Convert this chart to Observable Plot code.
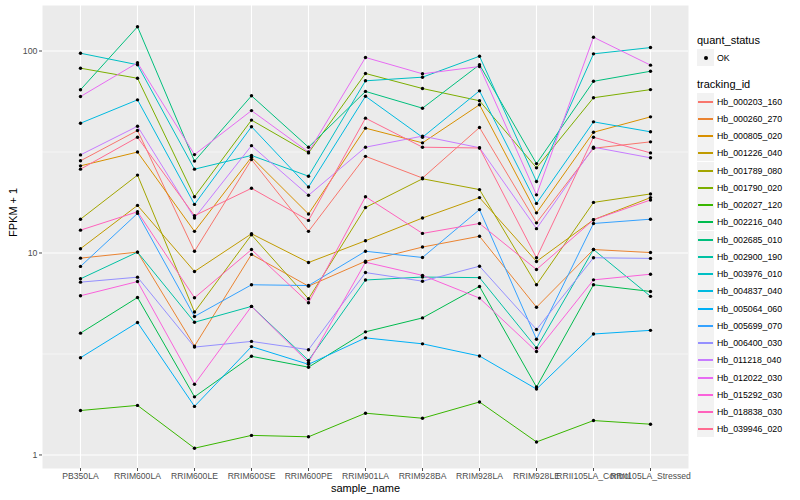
<!DOCTYPE html>
<html>
<head>
<meta charset="utf-8">
<script src="https://cdn.jsdelivr.net/npm/d3@7"></script>
<script src="https://cdn.jsdelivr.net/npm/@observablehq/plot@0.6"></script>
<style>
  body { margin: 0; background: white; }
  #wrap { position: relative; width: 800px; height: 500px; font-family: "Liberation Sans", Arial, sans-serif; }
  #legend { position: absolute; left: 0; top: 0; width: 800px; height: 500px; pointer-events: none; }
  .lt { position: absolute; font-size: 11px; color: #000; line-height: 14px; white-space: nowrap; }
  .ll { position: absolute; font-size: 8.8px; color: #000; line-height: 12px; white-space: nowrap; }
  .key { position: absolute; width: 17px; height: 17px; background: #F2F2F2; }
  .key .ln { position: absolute; left: 1px; width: 15px; top: 8px; height: 1.5px; }
  .key .pt { position: absolute; left: 6.5px; top: 6.5px; width: 4px; height: 4px; background: #000; border-radius: 50%; }
</style>
</head>
<body>
<div id="wrap"><div id="chart"></div><div id="legend"></div></div>
<script>
const samples = ["PB350LA", "RRIM600LA", "RRIM600LE", "RRIM600SE", "RRIM600PE", "RRIM901LA", "RRIM928BA", "RRIM928LA", "RRIM928LE", "RRII105LA_Control", "RRII105LA_Stressed"];

const trackingIds = ["Hb_000203_160", "Hb_000260_270", "Hb_000805_020", "Hb_001226_040", "Hb_001789_080", "Hb_001790_020", "Hb_002027_120", "Hb_002216_040", "Hb_002685_010", "Hb_002900_190", "Hb_003976_010", "Hb_004837_040", "Hb_005064_060", "Hb_005699_070", "Hb_006400_030", "Hb_011218_040", "Hb_012022_030", "Hb_015292_030", "Hb_018838_030", "Hb_039946_020"];

const colors = ["#F8766D", "#EA8331", "#D89000", "#C09B00", "#A3A500", "#7CAE00", "#39B600", "#00BB4E", "#00BF7D", "#00C1A3", "#00BFC4", "#00BAE0", "#00B0F6", "#35A2FF", "#9590FF", "#C77CFF", "#E76BF3", "#FA62DB", "#FF62BC", "#FF6C91"];

// FPKM + 1 per tracking_id, in sample order
const fpkmPlus1 = [
  [28.6, 40.4, 10.2, 29.0, 12.8, 30.1, 23.5, 41.8, 14.1, 33.0, 35.5],
  [9.43, 10.1, 3.46, 9.84, 6.85, 9.1, 10.7, 12.1, 5.39, 10.4, 10.05],
  [27.0, 31.6, 12.8, 29.8, 15.6, 41.5, 35.1, 54.2, 15.8, 39.6, 47.2],
  [10.5, 17.2, 8.1, 12.45, 8.97, 11.5, 14.9, 18.8, 9.08, 14.6, 18.8],
  [14.7, 24.3, 5.1, 12.3, 5.93, 16.8, 23.3, 20.6, 6.96, 17.8, 19.6],
  [82.2, 73.3, 19.0, 45.5, 31.3, 77.4, 65.2, 56.7, 26.4, 58.7, 64.4],
  [1.66, 1.76, 1.08, 1.25, 1.23, 1.61, 1.52, 1.83, 1.16, 1.48, 1.42],
  [4.01, 6.02, 1.94, 3.08, 2.72, 4.07, 4.77, 6.83, 2.17, 6.96, 6.45],
  [64.3, 131.8, 28.5, 60.0, 33.4, 63.1, 52.1, 85.5, 27.7, 70.8, 79.4],
  [7.45, 10.1, 4.54, 5.44, 2.94, 7.35, 7.6, 7.55, 3.39, 10.4, 6.1],
  [97.5, 85.5, 26.0, 30.4, 24.0, 71.2, 74.2, 94.2, 22.6, 96.8, 104],
  [43.9, 57.3, 17.4, 42.2, 21.2, 59.7, 37.4, 63.5, 17.6, 44.6, 39.8],
  [3.03, 4.53, 1.74, 3.44, 2.81, 3.80, 3.55, 3.09, 2.12, 3.97, 4.14],
  [8.58, 15.7, 4.85, 6.96, 6.9, 10.2, 9.5, 16.4, 3.74, 14.0, 14.7],
  [7.17, 7.59, 3.42, 3.65, 3.32, 8.0, 7.25, 8.6, 4.18, 9.47, 9.4],
  [30.6, 42.4, 14.9, 34.0, 19.3, 33.4, 37.9, 33.2, 13.2, 33.4, 29.6],
  [59.5, 87.4, 30.7, 50.7, 31.6, 92.9, 77.1, 83.8, 19.4, 117, 85.1],
  [6.14, 7.22, 2.24, 5.44, 2.87, 9.0, 7.75, 5.98, 3.25, 7.36, 7.85],
  [12.97, 16.0, 6.0, 10.4, 5.67, 19.0, 12.5, 14.0, 8.28, 14.6, 18.3],
  [26.0, 37.4, 15.3, 20.9, 14.5, 46.5, 33.4, 33.1, 9.47, 37.4, 31.3]
];

const yTicks = [1, 10, 100];
const yMinor = [Math.sqrt(10), Math.sqrt(1000)];
const statusLevels = ["OK"];

const data = trackingIds.flatMap((id, i) =>
  samples.map((s, j) => ({sample: s, tracking_id: id, value: fpkmPlus1[i][j], quant_status: "OK"}))
);

const plot = Plot.plot({
  width: 800,
  height: 500,
  marginLeft: 42,
  marginRight: 112,
  marginTop: 5,
  marginBottom: 32,
  style: {fontFamily: "'Liberation Sans', Arial, sans-serif", background: "white", overflow: "visible"},
  x: {type: "point", domain: samples, padding: 0.6, label: null},
  y: {type: "log", domain: [0.857, 168], label: null},
  color: {domain: trackingIds, range: colors},
  marks: [
    Plot.frame({fill: "#EBEBEB", stroke: "none"}),
    Plot.gridY(yMinor, {stroke: "white", strokeWidth: 0.55, strokeOpacity: 1}),
    Plot.gridY(yTicks, {stroke: "white", strokeWidth: 1.1, strokeOpacity: 1}),
    Plot.gridX(samples, {stroke: "white", strokeWidth: 1.1, strokeOpacity: 1}),
    Plot.axisX({color: "#4D4D4D", tickSize: 3, tickPadding: 1, fontSize: 8.6, label: null}),
    Plot.axisY(yTicks, {color: "#4D4D4D", tickSize: 3, tickPadding: 2, fontSize: 8.8, tickFormat: d => String(d), label: null}),
    Plot.line(data, {x: "sample", y: "value", z: "tracking_id", stroke: "tracking_id", strokeWidth: 1}),
    Plot.dot(data, {x: "sample", y: "value", r: 1.7, fill: "black", stroke: "none"}),
    Plot.text(["sample_name"], {frameAnchor: "bottom", dy: 23, fontSize: 11, fill: "black"}),
    Plot.text(["FPKM + 1"], {frameAnchor: "left", dx: -29, rotate: -90, fontSize: 11, fill: "black"})
  ]
});
document.getElementById("chart").appendChild(plot);

// Legend (ggplot style, right side)
const leg = d3.select("#legend");
const lx = 697;
leg.append("div").attr("class", "lt").style("left", lx + "px").style("top", (40 - 7) + "px").text("quant_status");
statusLevels.forEach((s, i) => {
  const top = Math.round(57 + i * 17.25 - 8.5);
  const k = leg.append("div").attr("class", "key").style("left", lx + "px").style("top", top + "px");
  k.append("div").attr("class", "pt");
  leg.append("div").attr("class", "ll").style("left", (lx + 20) + "px").style("top", (top + 2.5) + "px").text(s);
});
leg.append("div").attr("class", "lt").style("left", lx + "px").style("top", (84 - 7) + "px").text("tracking_id");
trackingIds.forEach((id, i) => {
  const top = Math.round(101 + i * 17.25 - 8.5);
  const k = leg.append("div").attr("class", "key").style("left", lx + "px").style("top", top + "px");
  k.append("div").attr("class", "ln").style("background-color", colors[i]);
  leg.append("div").attr("class", "ll").style("left", (lx + 20) + "px").style("top", (top + 2.5) + "px").text(id);
});
</script>
</body>
</html>
